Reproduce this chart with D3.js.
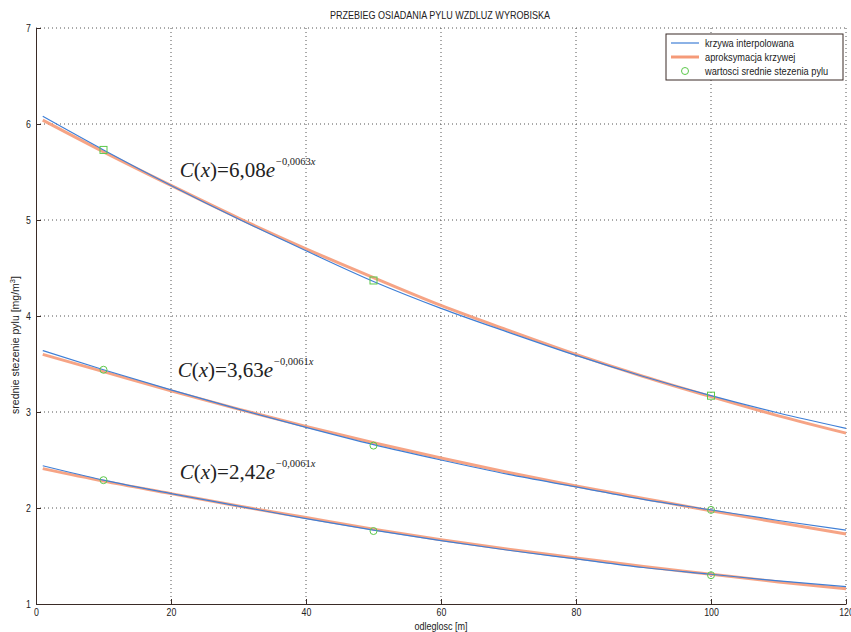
<!DOCTYPE html>
<html>
<head>
<meta charset="utf-8">
<script src="https://cdn.jsdelivr.net/npm/d3@7"></script>
<style>
  body { margin: 0; background: #fff; }
  text { font-family: "Liberation Sans", Arial, sans-serif; }
  .eq text { font-family: "Liberation Serif", "DejaVu Serif", serif; }
</style>
</head>
<body>
<div id="chart"></div>
<script>
// x positions of the sampled curve points [m]
var xs = [1, 10, 20, 30, 40, 50, 60, 70, 80, 90, 100, 110, 120];

// interpolated curves (blue)
var topInterp = [6.08, 5.73, 5.36, 5.01, 4.68, 4.36, 4.08, 3.83, 3.59, 3.37, 3.17, 2.99, 2.83];
var midInterp = [3.64, 3.44, 3.23, 3.03, 2.84, 2.66, 2.50, 2.35, 2.22, 2.09, 1.98, 1.87, 1.77];
var lowInterp = [2.44, 2.29, 2.15, 2.02, 1.89, 1.77, 1.66, 1.56, 1.47, 1.38, 1.31, 1.24, 1.18];

// fitted curves (orange)
var topFit = [6.04, 5.71, 5.36, 5.02, 4.70, 4.40, 4.11, 3.85, 3.60, 3.37, 3.16, 2.96, 2.78];
var midFit = [3.60, 3.42, 3.22, 3.03, 2.85, 2.68, 2.52, 2.37, 2.23, 2.10, 1.97, 1.85, 1.73];
var lowFit = [2.41, 2.28, 2.15, 2.02, 1.90, 1.78, 1.67, 1.57, 1.48, 1.39, 1.31, 1.23, 1.16];

// mean measured values
var measX = [10, 50, 100];
var topMeas = [5.73, 4.37, 3.17];
var midMeas = [3.44, 2.65, 1.98];
var lowMeas = [2.29, 1.76, 1.30];

var xTicks = [0, 20, 40, 60, 80, 100, 120];
var yTicks = [1, 2, 3, 4, 5, 6, 7];

var equations = [
    { coef: "6,08", exp: "\u22120,0063", xv: 21.3, yv: 5.45 },
    { coef: "3,63", exp: "\u22120,0061", xv: 21.0, yv: 3.36 },
    { coef: "2,42", exp: "\u22120,0061", xv: 21.3, yv: 2.30 }
];

var legendLabels = ["krzywa interpolowana", "aproksymacja krzywej", "wartosci srednie stezenia pylu"];

var blue = "#3f7fd6", orange = "#f59a78", green = "#5cc84a", ink = "#3a2b27";

var W = 851, H = 632;
var x = d3.scaleLinear().domain([0, 120]).range([36, 846]);
var y = d3.scaleLinear().domain([1, 7]).range([604, 28]);

var svg = d3.select("#chart").append("svg")
    .attr("width", W).attr("height", H);

// squeeze sans text horizontally, the original uses a narrow face
function condense(sel, k) {
    sel.each(function () {
        var len = this.getComputedTextLength();
        d3.select(this).attr("textLength", len * k).attr("lengthAdjust", "spacingAndGlyphs");
    });
}

// grid
svg.append("g").selectAll("line")
    .data(xTicks.slice(1)).enter().append("line")
    .attr("x1", d => x(d)).attr("x2", d => x(d))
    .attr("y1", y(7)).attr("y2", y(1))
    .attr("stroke", "#555").attr("stroke-width", 1)
    .attr("stroke-dasharray", "1,3");
svg.append("g").selectAll("line")
    .data(yTicks.slice(1)).enter().append("line")
    .attr("x1", x(0)).attr("x2", x(120))
    .attr("y1", d => y(d)).attr("y2", d => y(d))
    .attr("stroke", "#555").attr("stroke-width", 1)
    .attr("stroke-dasharray", "1,3");

// axes
var xAxis = svg.append("g").attr("transform", "translate(0," + y(1) + ")")
    .call(d3.axisBottom(x).tickValues(xTicks).tickFormat(d3.format("d"))
        .tickSize(-5).tickSizeOuter(0).tickPadding(4));
var yAxis = svg.append("g").attr("transform", "translate(" + x(0) + ",0)")
    .call(d3.axisLeft(y).tickValues(yTicks).tickFormat(d3.format("d"))
        .tickSize(-5).tickSizeOuter(0).tickPadding(5));
[xAxis, yAxis].forEach(function (a) {
    a.selectAll("path, line").attr("stroke", ink);
    a.selectAll("text").attr("fill", "#222").style("font-size", "11px");
    condense(a.selectAll("text"), 0.8);
});

// curves
var line = d3.line()
    .x(d => x(d[0])).y(d => y(d[1]))
    .curve(d3.curveMonotoneX);

function pairs(vals) { return xs.map((v, i) => [v, vals[i]]); }

[topFit, midFit, lowFit].forEach(function (s) {
    svg.append("path").attr("d", line(pairs(s)))
        .attr("fill", "none").attr("stroke", orange).attr("stroke-width", 3).attr("opacity", 0.9);
});
[topInterp, midInterp, lowInterp].forEach(function (s) {
    svg.append("path").attr("d", line(pairs(s)))
        .attr("fill", "none").attr("stroke", blue).attr("stroke-width", 1.2);
});

// markers: squares on the top series, circles on the others
svg.append("g").selectAll("rect")
    .data(measX.map((v, i) => [v, topMeas[i]])).enter().append("rect")
    .attr("x", d => x(d[0]) - 3.5).attr("y", d => y(d[1]) - 3.5)
    .attr("width", 7).attr("height", 7)
    .attr("fill", "none").attr("stroke", green).attr("stroke-width", 1);
[midMeas, lowMeas].forEach(function (s) {
    svg.append("g").selectAll("circle")
        .data(measX.map((v, i) => [v, s[i]])).enter().append("circle")
        .attr("cx", d => x(d[0])).attr("cy", d => y(d[1])).attr("r", 3.5)
        .attr("fill", "none").attr("stroke", green).attr("stroke-width", 1);
});

// equations
var eq = svg.append("g").attr("class", "eq");
equations.forEach(function (e) {
    var t = eq.append("text")
        .attr("x", x(e.xv)).attr("y", y(e.yv))
        .attr("fill", "#222").style("font-size", "21px");
    t.append("tspan").style("font-style", "italic").text("C");
    t.append("tspan").text("(");
    t.append("tspan").style("font-style", "italic").text("x");
    t.append("tspan").text(")=" + e.coef);
    t.append("tspan").style("font-style", "italic").text("e");
    t.append("tspan").attr("dy", -12).attr("dx", 1).style("font-size", "10.5px").text(e.exp);
    t.append("tspan").style("font-size", "10.5px").style("font-style", "italic").text("x");
});

// title and axis labels
var title = svg.append("text").attr("x", 440).attr("y", 19).attr("text-anchor", "middle")
    .style("font-size", "11px").attr("fill", "#222")
    .text("PRZEBIEG OSIADANIA PYLU WZDLUZ WYROBISKA");
condense(title, 0.82);
var xl = svg.append("text").attr("x", 441).attr("y", 630).attr("text-anchor", "middle")
    .style("font-size", "11px").attr("fill", "#222")
    .text("odleglosc [m]");
condense(xl, 0.82);
var yl = svg.append("text")
    .attr("transform", "translate(19," + 345 + ") rotate(-90)")
    .attr("text-anchor", "middle")
    .style("font-size", "10.5px").attr("fill", "#222");
yl.append("tspan").text("srednie stezenie pylu [mg/m");
yl.append("tspan").attr("dy", -4).style("font-size", "7.5px").text("3");
yl.append("tspan").attr("dy", 4).text("]");

// legend
var lg = svg.append("g").attr("transform", "translate(666,34)");
lg.append("rect").attr("width", 177).attr("height", 46)
    .attr("fill", "#fff").attr("stroke", ink).attr("stroke-width", 1);
legendLabels.forEach(function (label, i) {
    var cy = 9 + i * 14;
    if (i === 0) {
        lg.append("line").attr("x1", 5).attr("x2", 33).attr("y1", cy).attr("y2", cy)
            .attr("stroke", blue).attr("stroke-width", 1.2);
    } else if (i === 1) {
        lg.append("line").attr("x1", 5).attr("x2", 33).attr("y1", cy).attr("y2", cy)
            .attr("stroke", orange).attr("stroke-width", 3);
    } else {
        lg.append("circle").attr("cx", 19).attr("cy", cy).attr("r", 3.5)
            .attr("fill", "none").attr("stroke", green);
    }
    var t = lg.append("text").attr("x", 39).attr("y", cy).attr("dy", "0.35em")
        .style("font-size", "10.5px").attr("fill", "#222").text(label);
    condense(t, 0.88);
});
</script>
</body>
</html>
